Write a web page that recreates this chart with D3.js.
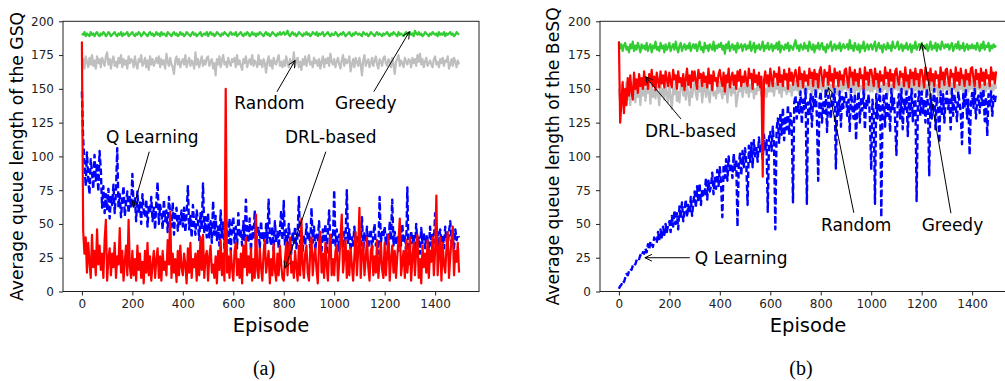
<!DOCTYPE html>
<html>
<head>
<meta charset="utf-8">
<script src="https://cdn.jsdelivr.net/npm/d3@7/dist/d3.min.js"></script>
<style>
  body { margin: 0; background: #fff; }
  svg { display: block; font-family: "DejaVu Sans", sans-serif; }
</style>
</head>
<body>
<svg id="chart" width="1005" height="381"></svg>
<script>
const episodes = d3.range(0, 1500, 5);
const xTicks = [0, 200, 400, 600, 800, 1000, 1200, 1400];
const yTicks = [0, 25, 50, 75, 100, 125, 150, 175, 200];

// ---- panel (a): GSQ ----
const greedyGSQ = [
  191,190,192,189,191,190,189,192,190,191,189,191,192,190,189,191,190,192,191,189,
  190,192,191,189,190,191,192,190,189,191,190,192,189,191,190,191,192,189,190,191,
  192,190,189,191,190,192,191,189,190,192,191,190,189,191,192,190,191,189,190,192,
  190,191,189,192,190,191,190,189,192,191,190,189,191,192,190,191,189,190,192,190,
  191,189,190,192,191,190,189,191,192,190,191,189,190,191,192,189,190,191,190,192,
  189,191,192,190,191,189,190,192,191,190,189,191,190,192,191,190,189,191,192,190,
  191,190,192,189,190,191,192,190,189,191,190,192,191,189,190,192,190,191,189,191,
  190,192,191,190,189,191,192,190,191,189,190,192,191,190,189,191,190,192,190,191,
  192,190,191,193,190,189,191,192,190,191,189,190,192,191,190,189,191,190,192,190,
  191,189,190,192,191,190,192,189,191,190,191,192,189,190,191,192,190,189,191,190,
  190,192,191,189,190,191,190,192,191,189,190,191,192,190,189,191,190,192,191,190,
  191,190,189,192,191,190,191,189,190,192,191,190,189,191,192,190,191,190,189,191,
  190,191,192,190,189,191,190,192,191,190,189,192,190,191,190,189,191,192,190,191,
  192,190,191,189,193,191,190,192,190,191,189,190,192,191,190,189,191,190,192,191,
  190,191,189,192,190,191,190,192,189,191,190,191,192,190,191,189,190,192,191,190
];
const randomGSQ = [
  168,172,165,174,170,166,173,168,175,167,171,165,174,169,172,166,173,170,167,174,
  177,168,172,165,171,174,167,170,166,173,169,175,166,172,168,171,165,174,169,172,
  171,166,174,168,165,172,170,175,167,169,173,166,171,164,174,168,172,167,170,173,
  169,174,166,172,168,171,165,176,170,167,173,168,166,161,171,174,168,172,166,170,
  172,168,175,166,170,173,167,171,169,165,177,168,172,166,170,174,167,171,168,173,
  174,167,170,172,165,169,160,172,168,174,166,171,175,168,170,166,173,169,167,172,
  170,173,166,175,168,171,167,164,172,169,174,166,170,172,168,175,167,171,169,166,
  175,168,171,166,172,169,162,170,174,167,171,165,173,169,168,172,175,167,170,166,
  171,167,174,169,166,172,170,168,177,167,171,173,166,170,164,172,168,174,167,171,
  175,168,170,166,173,169,171,167,172,165,170,174,166,172,169,173,167,176,170,168,
  172,166,170,173,168,165,171,175,167,172,169,170,174,163,168,172,166,173,170,167,
  173,168,160,171,175,167,170,172,166,169,173,167,171,174,168,165,172,170,167,173,
  174,169,167,172,170,166,173,168,161,170,172,175,167,171,169,166,173,170,168,172,
  171,166,173,169,172,167,175,170,176,168,172,166,170,173,167,169,171,168,166,172,
  174,168,170,166,172,169,173,167,171,170,174,165,168,172,167,173,170,166,171,168
];
const qlearnGSQ = [
  148,112,96,78,103,84,72,98,88,76,101,82,95,74,104,90,62,78,58,72,
  60,76,54,70,64,79,58,74,106,62,72,55,68,78,56,66,74,58,70,62,
  87,62,70,52,74,58,66,50,72,60,55,68,48,64,58,70,52,62,46,66,
  81,50,64,58,46,68,52,60,44,70,56,48,66,42,58,62,45,56,50,60,
  48,62,44,58,78,46,56,40,64,50,42,60,52,38,58,46,80,44,55,40,
  58,40,52,36,67,42,56,38,48,34,60,40,52,32,58,44,36,54,30,50,
  55,36,48,32,58,40,46,34,52,38,68,42,36,54,30,48,38,60,34,46,
  48,32,52,38,44,30,50,36,68,40,34,48,30,52,36,44,32,46,60,38,
  67,34,46,30,50,38,28,44,36,48,32,42,70,36,46,30,42,34,50,38,
  44,32,62,36,48,30,42,38,52,34,30,46,36,50,28,44,60,34,42,36,
  75,34,46,30,42,36,50,32,44,38,75,36,46,30,40,34,48,32,42,36,
  40,34,55,30,44,36,48,32,40,46,30,42,50,34,38,28,70,36,44,40,
  48,34,42,30,52,38,68,34,44,36,40,30,46,34,50,36,42,30,77,20,
  32,45,36,42,30,50,34,40,28,47,36,44,32,42,38,30,48,34,42,36,
  58,34,44,30,46,36,42,32,48,38,34,44,52,36,40,32,46,38,42,40
];
const drlGSQ = [
  185,45,28,40,14,36,22,10,42,18,30,12,46,20,34,16,28,10,38,53,
  8,24,32,12,28,18,36,10,26,20,47,14,30,8,22,34,12,53,18,10,
  30,12,24,8,34,16,28,10,22,6,30,14,36,12,26,8,20,30,10,24,
  32,10,26,8,30,16,22,12,38,20,59,10,28,14,24,7,30,12,34,18,
  12,28,20,6,32,14,36,10,24,18,28,8,30,12,40,16,42,10,26,30,
  8,26,34,14,20,10,26,6,30,16,38,12,28,8,150,14,26,10,30,18,
  8,30,36,12,24,10,28,6,34,18,40,12,26,14,32,8,24,10,57,16,
  10,32,18,8,28,38,14,22,30,6,24,12,35,16,8,28,12,34,20,10,
  8,24,36,12,30,40,14,22,10,30,18,8,34,12,54,20,10,28,34,14,
  8,30,40,12,26,32,16,6,36,44,14,28,10,36,20,8,30,42,12,24,
  12,30,34,8,22,40,57,14,26,38,10,30,12,32,20,8,26,44,12,30,
  62,10,28,36,12,24,40,18,8,30,34,12,26,14,38,10,22,36,16,10,
  36,12,28,42,8,24,34,14,30,10,26,38,54,12,22,30,10,38,14,26,
  40,8,26,36,12,30,42,10,24,6,34,18,28,14,38,10,30,22,40,12,
  30,71,12,28,40,8,36,20,14,32,44,10,26,38,48,12,30,22,36,14
];

// ---- panel (b): BeSQ ----
const greedyBeSQ = [
  185,180,183,178,182,184,179,181,177,183,180,185,178,182,179,184,181,177,183,180,
  182,179,184,178,181,183,177,182,180,185,179,181,178,184,180,182,177,183,179,181,
  184,178,181,183,179,185,180,177,182,184,178,181,183,179,182,180,184,178,181,183,
  180,183,178,182,185,179,181,177,184,180,182,178,183,181,179,185,178,182,180,183,
  181,184,179,182,176,183,180,185,178,181,183,179,182,177,184,180,181,183,178,182,
  183,179,182,180,185,178,181,184,177,182,180,183,179,181,185,178,182,180,184,179,
  181,183,178,182,180,184,179,185,177,182,181,179,183,180,184,178,182,181,179,183,
  186,180,182,178,183,181,179,184,180,182,178,185,181,179,183,177,182,180,184,179,
  182,184,179,181,177,183,180,182,185,178,181,183,179,182,180,184,178,181,183,180,
  181,183,179,186,180,182,178,184,181,179,183,177,182,180,185,178,181,183,179,182,
  183,179,182,185,178,181,184,180,182,177,183,181,179,184,180,182,178,185,181,180,
  182,185,179,181,183,178,182,180,184,179,181,183,177,182,180,185,179,181,183,180,
  184,179,182,180,183,178,181,185,179,182,180,184,178,183,181,179,185,182,180,183,
  181,183,179,182,184,178,181,183,180,185,179,182,180,184,178,181,183,179,182,180,
  183,180,182,179,184,181,178,183,180,185,179,182,181,184,178,182,180,183,181,182
];
const randomBeSQ = [
  150,140,153,145,135,148,155,142,150,138,152,146,156,140,149,144,153,138,151,145,
  155,141,150,147,153,139,156,144,149,143,152,146,138,154,145,150,142,155,146,140,
  153,144,135,150,146,155,141,148,140,152,156,145,149,142,153,147,138,151,144,150,
  155,146,142,152,148,156,140,150,153,144,157,146,140,151,154,145,148,143,152,147,
  155,148,143,152,146,154,140,150,156,145,151,147,153,137,144,150,148,155,144,150,
  155,147,151,144,153,148,156,143,150,146,154,149,152,145,155,147,150,144,153,148,
  156,148,152,145,154,150,157,147,153,144,155,149,151,146,156,148,153,145,152,149,
  156,149,153,146,155,150,157,148,152,147,154,150,156,145,153,149,155,147,152,150,
  157,148,154,150,146,155,158,149,153,147,156,150,152,146,155,149,157,148,153,150,
  156,149,153,147,158,150,154,146,155,149,157,148,152,150,156,145,154,149,155,148,
  156,148,153,150,155,146,157,149,152,148,156,150,154,145,155,149,153,147,156,150,
  157,149,154,147,155,150,153,146,156,148,154,150,157,145,153,149,155,147,154,150,
  156,148,158,150,153,146,155,149,157,147,154,150,153,145,156,149,157,148,154,150,
  155,149,157,146,154,150,156,148,153,147,155,150,157,145,154,149,156,148,153,150,
  156,149,154,147,155,150,157,145,153,149,156,148,154,150,155,146,153,149,156,150
];
const qlearnBeSQ = [
  2,4,5,8,7,10,13,12,15,17,16,19,21,20,23,25,24,27,26,29,
  28,32,29,35,31,37,35,33,40,38,36,44,38,46,40,48,42,50,44,49,
  52,44,56,48,60,50,58,46,63,54,66,52,60,68,55,64,58,70,56,66,
  74,62,78,66,80,64,76,70,72,84,68,82,74,78,88,72,84,76,90,78,
  92,80,55,94,84,98,82,100,88,95,84,102,90,98,48,94,102,86,104,92,
  106,94,64,108,96,110,92,112,100,106,96,114,102,110,98,116,104,112,59,114,
  118,104,122,108,46,120,128,110,132,116,136,112,130,120,138,116,132,124,66,140,
  145,128,140,132,148,124,142,135,150,65,140,130,146,122,144,136,150,128,82,142,
  148,125,140,132,150,118,145,135,128,146,138,150,91,140,130,148,122,144,136,146,
  147,130,142,118,150,136,128,146,112,140,148,125,144,134,150,120,142,138,146,128,
  90,142,132,65,146,128,140,150,55,136,146,122,148,130,140,118,150,135,144,126,
  101,140,146,128,150,120,142,135,148,115,144,130,150,126,140,146,67,138,148,130,
  148,132,142,125,150,138,86,146,128,140,150,120,144,136,110,148,130,146,125,142,
  148,135,142,120,150,130,146,138,126,148,140,132,109,146,136,150,128,142,101,138,
  147,136,150,128,142,145,132,148,138,150,126,144,115,146,136,148,130,145,140,147
];
const drlBeSQ = [
  185,125,140,155,132,150,138,158,145,160,148,142,162,150,157,147,161,152,158,150,
  163,153,158,150,161,155,164,152,159,149,162,156,151,163,154,160,151,163,157,152,
  162,155,151,164,157,160,150,163,155,158,152,161,149,157,165,153,160,151,163,156,
  163,156,150,164,158,161,152,162,155,159,151,165,154,160,149,163,156,158,152,161,
  164,157,152,162,148,160,155,165,151,158,162,153,160,150,163,156,164,152,159,155,
  163,156,152,165,158,161,150,164,155,160,153,162,151,159,85,156,163,154,160,152,
  165,157,152,163,159,161,153,166,155,160,152,164,157,161,150,165,156,162,153,160,
  164,158,152,166,157,161,151,163,156,160,153,165,158,162,152,164,157,161,151,163,
  166,158,152,164,159,162,153,167,156,161,151,165,158,162,152,163,157,160,153,164,
  165,157,151,166,159,162,153,164,156,161,152,165,158,160,150,166,157,162,153,164,
  164,158,152,165,157,161,151,163,156,160,153,166,158,162,152,164,156,161,151,163,
  165,157,153,163,159,161,152,166,156,160,151,164,158,162,153,165,157,161,152,164,
  164,158,151,166,157,162,153,165,156,161,152,163,158,160,151,166,157,162,153,164,
  165,157,152,164,159,161,151,166,156,162,153,165,158,160,152,164,157,161,153,165,
  166,158,152,164,157,161,151,165,156,162,153,164,158,160,152,166,157,162,154,163
];

const COLORS = { greedy: "#32cd32", random: "#bfbfbf", qlearn: "#0000ff", drl: "#ff0000" };

const panels = [
  {
    left: 63, caption: "(a)", yLabel: "Average queue length of the GSQ", yLabelX: 23,
    series: [
      { key: "greedy", values: greedyGSQ },
      { key: "random", values: randomGSQ },
      { key: "qlearn", values: qlearnGSQ, dashed: true },
      { key: "drl", values: drlGSQ }
    ],
    notes: [
      { text: "Random", at: [604, 134.9], from: [773, 147.8], tip: [845, 171] },
      { text: "Greedy", at: [1003, 134.9], from: [1157, 147.9], tip: [1298, 192.3] },
      { text: "Q Learning", at: [95, 109.7], from: [267, 103.5], tip: [204, 62.3] },
      { text: "DRL-based", at: [805, 109.7], from: [967, 103.5], tip: [805, 17.2] }
    ]
  },
  {
    left: 600, caption: "(b)", yLabel: "Average queue length of the BeSQ", yLabelX: 559,
    series: [
      { key: "greedy", values: greedyBeSQ },
      { key: "random", values: randomBeSQ },
      { key: "qlearn", values: qlearnBeSQ, dashed: true },
      { key: "drl", values: drlBeSQ }
    ],
    notes: [
      { text: "DRL-based", at: [103, 114.6], from: [246, 127.7], tip: [106, 159] },
      { text: "Q Learning", at: [301, 20.4], from: [281, 25], tip: [103, 25] },
      { text: "Random", at: [801, 44.8], from: [931, 58.3], tip: [830, 151] },
      { text: "Greedy", at: [1200, 44.8], from: [1316, 57.9], tip: [1200, 183.7] }
    ]
  }
];

const svg = d3.select("#chart");
const plotW = 416, plotTop = 21.3, plotBottom = 291.5;

panels.forEach(p => {
  const x = d3.scaleLinear().domain([-74.95, 1573.95]).range([p.left, p.left + plotW]);
  const y = d3.scaleLinear().domain([0, 200]).range([plotBottom, plotTop]);
  const g = svg.append("g");

  // series
  const line = d3.line().x((d, i) => x(episodes[i])).y(d => y(d));
  p.series.forEach(s => {
    g.append("path")
      .datum(s.values)
      .attr("d", line)
      .attr("fill", "none")
      .attr("stroke", COLORS[s.key])
      .attr("stroke-width", s.dashed ? 2.4 : 2.2)
      .attr("stroke-linejoin", "round")
      .attr("stroke-dasharray", s.dashed ? "6.5,3" : null);
  });

  // frame
  g.append("rect")
    .attr("x", p.left).attr("y", plotTop)
    .attr("width", plotW).attr("height", plotBottom - plotTop)
    .attr("fill", "none").attr("stroke", "#222").attr("stroke-width", 1);

  // axes
  const xAxis = g.append("g")
    .attr("transform", `translate(0,${plotBottom})`)
    .call(d3.axisBottom(x).tickValues(xTicks).tickFormat(d3.format("d"))
      .tickSize(4).tickSizeOuter(0).tickPadding(4));
  const yAxis = g.append("g")
    .attr("transform", `translate(${p.left},0)`)
    .call(d3.axisLeft(y).tickValues(yTicks).tickFormat(d3.format("d"))
      .tickSize(4).tickSizeOuter(0).tickPadding(5));
  [xAxis, yAxis].forEach(a => {
    a.select(".domain").remove();
    a.selectAll("line").attr("stroke", "#222");
    a.selectAll("text")
      .style("font-family", "DejaVu Sans, sans-serif")
      .style("font-size", "12px")
      .attr("fill", "#222");
  });

  // axis labels
  g.append("text")
    .attr("x", p.left + plotW / 2).attr("y", 332)
    .attr("text-anchor", "middle")
    .style("font-size", "19.5px")
    .text("Episode");
  g.append("text")
    .attr("transform", `translate(${p.yLabelX},${(plotTop + plotBottom) / 2}) rotate(-90)`)
    .attr("text-anchor", "middle")
    .style("font-size", "17.2px")
    .text(p.yLabel);

  // annotations
  p.notes.forEach(n => {
    const x0 = x(n.from[0]), y0 = y(n.from[1]);
    const x1 = x(n.tip[0]), y1 = y(n.tip[1]);
    g.append("line")
      .attr("x1", x0).attr("y1", y0).attr("x2", x1).attr("y2", y1)
      .attr("stroke", "#000").attr("stroke-width", 1);
    const ang = Math.atan2(y0 - y1, x0 - x1);
    const hl = 7, hw = 3.4;
    const bx = x1 + hl * Math.cos(ang), by = y1 + hl * Math.sin(ang);
    const px = -Math.sin(ang) * hw, py = Math.cos(ang) * hw;
    g.append("path")
      .attr("d", `M${bx + px},${by + py}L${x1},${y1}L${bx - px},${by - py}`)
      .attr("fill", "none").attr("stroke", "#000").attr("stroke-width", 1);
    g.append("text")
      .attr("x", x(n.at[0])).attr("y", y(n.at[1]))
      .style("font-size", "17px")
      .text(n.text);
  });

  // caption
  svg.append("text")
    .attr("x", p.left + 201).attr("y", 375)
    .attr("text-anchor", "middle")
    .style("font-family", "'Liberation Serif', 'Times New Roman', serif")
    .style("font-size", "20px")
    .text(p.caption);
});
</script>
</body>
</html>
